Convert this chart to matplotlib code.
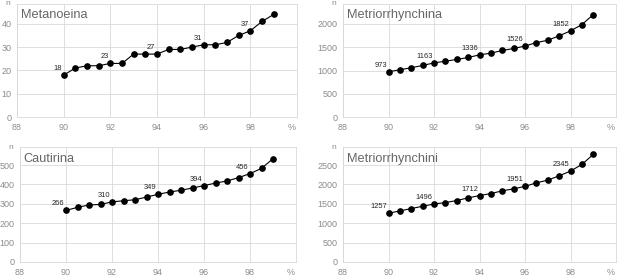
import matplotlib
matplotlib.use('Agg')
import matplotlib.pyplot as plt

plt.rcParams['font.family'] = ['Liberation Sans', 'DejaVu Sans']

# THRESHOLD (%) ON THE X AXIS
pct = [90, 90.5, 91, 91.5, 92, 92.5, 93, 93.5, 94, 94.5,
       95, 95.5, 96, 96.5, 97, 97.5, 98, 98.5, 99]

# n VALUES PER GROUP
metanoeina = [18, 21, 22, 22, 23, 23, 27, 27, 27, 29,
              29, 30, 31, 31, 32, 35, 37, 41, 44]
metriorrhynchina = [973, 1016, 1059, 1109, 1163, 1200, 1237, 1280, 1336, 1373,
                    1430, 1473, 1526, 1600, 1650, 1745, 1852, 1987, 2200]
cautirina = [266, 282, 294, 297, 310, 316, 321, 335, 349, 361,
             370, 382, 394, 407, 418, 435, 456, 483, 533]
metriorrhynchini = [1257, 1318, 1378, 1438, 1496, 1533, 1585, 1654, 1712, 1766,
                    1835, 1887, 1951, 2042, 2111, 2223, 2345, 2516, 2775]

# WHICH POINTS GET A NUMBER
labelled = [90, 92, 94, 96, 98]
x_ticks = [88, 90, 92, 94, 96, 98]

panels = [
    # name, values, y ticks, y max, [left, bottom, width, height]
    ('Metanoeina', metanoeina, [0, 10, 20, 30, 40], 48.5,
     [17/617, 0.5745, 280/617, 0.411]),
    ('Metriorrhynchina', metriorrhynchina, [0, 500, 1000, 1500, 2000], 2430,
     [343/617, 0.5745, 273/617, 0.411]),
    ('Cautirina', cautirina, [0, 100, 200, 300, 400, 500], 593,
     [20/617, 0.0473, 276/617, 0.418]),
    ('Metriorrhynchini', metriorrhynchini, [0, 500, 1000, 1500, 2000, 2500], 2965,
     [343/617, 0.0473, 273/617, 0.418]),
]

grid_col = '#d9d9d9'
tick_col = '#8c8c8c'

fig = plt.figure(figsize=(6.17, 2.75), dpi=100)

for name, vals, yt, ymax, rect in panels:
    ax = fig.add_axes(rect)
    ax.plot(pct, vals, color='black', lw=0.8, marker='o', ms=3.8, zorder=3)

    ax.set_xlim(88, 100)
    ax.set_ylim(0, ymax)
    ax.set_xticks(x_ticks)
    ax.set_yticks(yt)
    ax.tick_params(length=0, labelsize=6.5, colors=tick_col, pad=4)
    ax.grid(True, color=grid_col, lw=0.6)
    ax.set_axisbelow(True)
    for s in ax.spines.values():
        s.set_color(grid_col)
        s.set_linewidth(0.6)

    # TITLE INSIDE THE PLOT
    ax.text(0.014, 0.9, name, transform=ax.transAxes, fontsize=9.2,
            color='#666666', va='center', ha='left')

    # AXIS TITLES
    ax.annotate('n', xy=(0, 1), xycoords='axes fraction', xytext=(-5, 0),
                textcoords='offset points', ha='right', va='center',
                fontsize=6, color=tick_col)
    ax.annotate('%', xy=(1, 0), xycoords='axes fraction', xytext=(-1, -4),
                textcoords='offset points', ha='right', va='top',
                fontsize=6.5, color=tick_col)

    # DATA LABELS
    for x, v in zip(pct, vals):
        if x in labelled:
            ax.annotate(str(v), xy=(x, v), xytext=(-1.1, 2.2),
                        textcoords='offset points', ha='right', va='bottom',
                        fontsize=5.4, color='#262626')

plt.savefig('out.png', dpi=100)
